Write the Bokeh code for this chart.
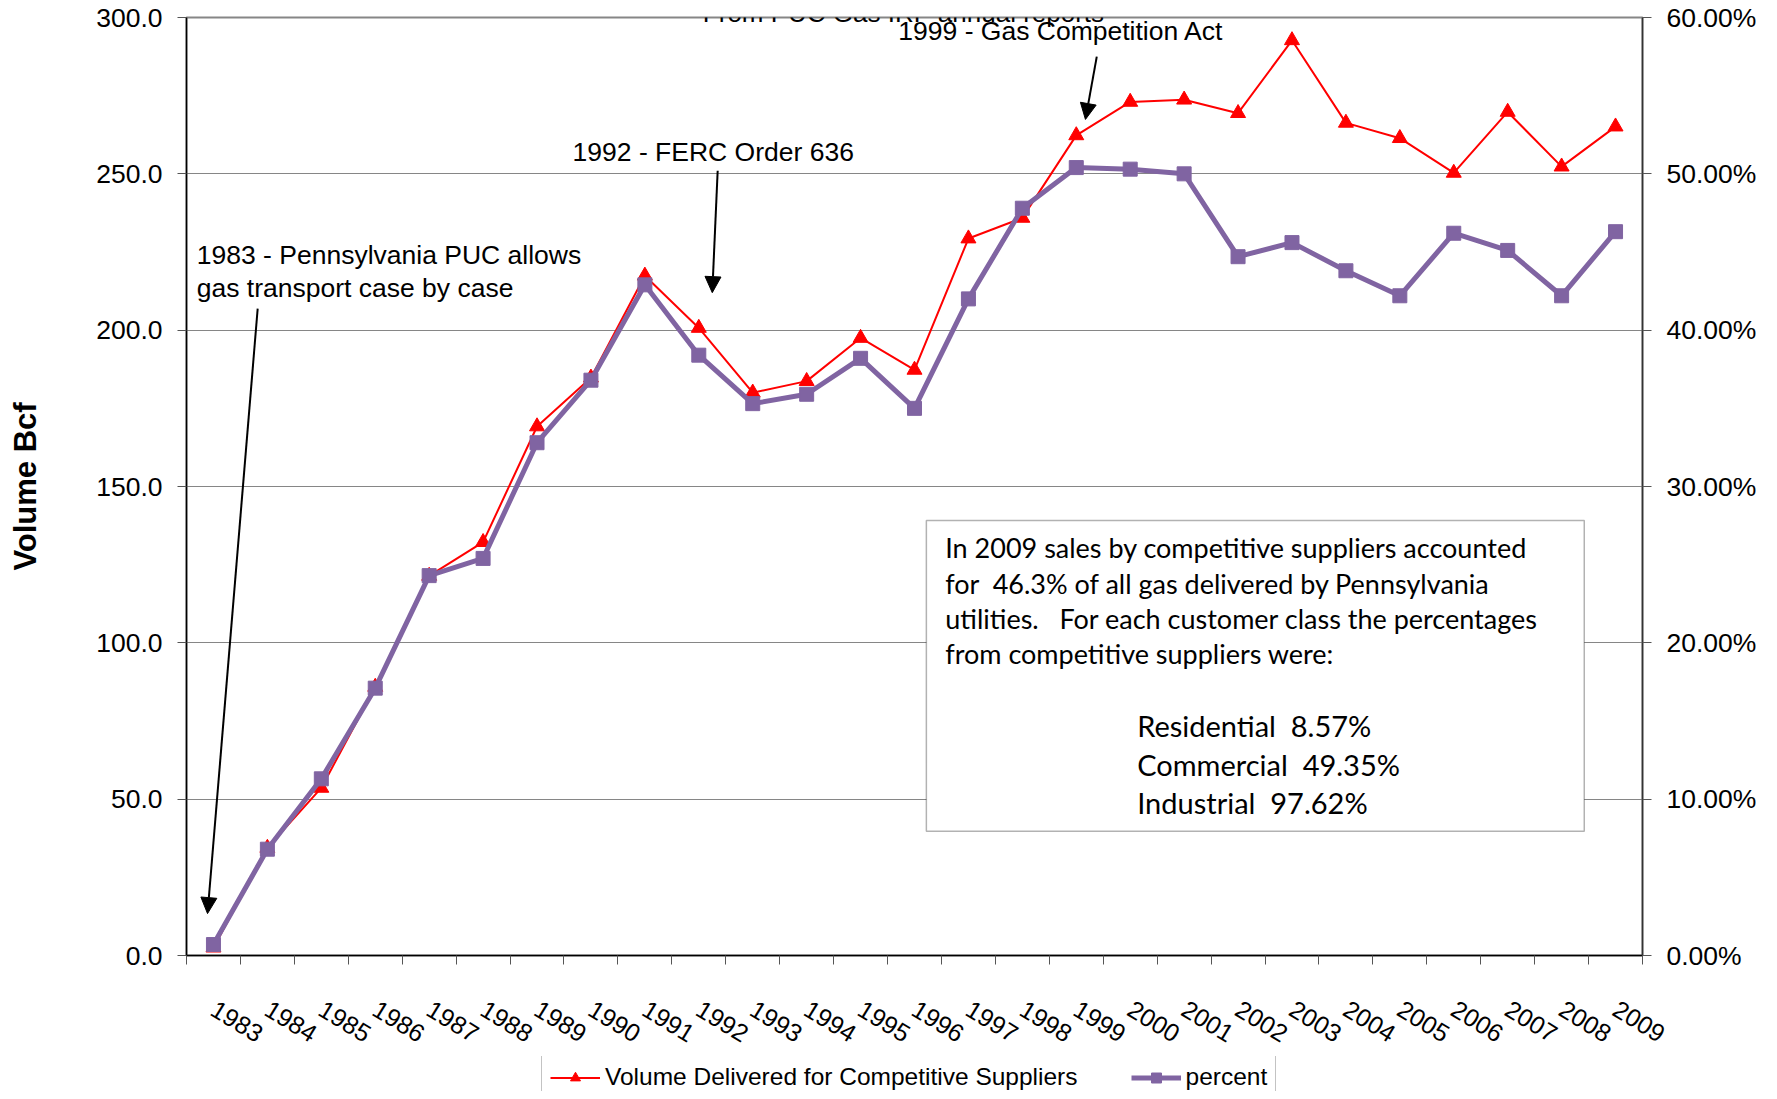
from bokeh.plotting import figure
from bokeh.layouts import column
from bokeh.models import (Range1d, LinearAxis, FixedTicker, PrintfTickFormatter, Legend, LegendItem,
                          Arrow, NormalHead, Label, BoxAnnotation, ColumnDataSource)
from bokeh.embed import file_html
from bokeh.resources import INLINE

# ---------------- data ----------------
years = [1983, 1984, 1985, 1986, 1987, 1988, 1989, 1990, 1991, 1992, 1993, 1994, 1995, 1996,
         1997, 1998, 1999, 2000, 2001, 2002, 2003, 2004, 2005, 2006, 2007, 2008, 2009]
volume = [2.5, 34.4, 53.6, 85.9, 121.4, 132.2, 169.2, 184.8, 217.4, 200.7, 180.0, 183.7, 197.5, 187.3,
          229.3, 235.9, 262.3, 273.0, 273.7, 269.4, 292.7, 266.3, 261.4, 250.3, 269.8, 252.3, 265.1]
percent = [0.7, 6.8, 11.3, 17.1, 24.3, 25.4, 32.8, 36.8, 42.9, 38.4, 35.3, 35.9, 38.2, 35.0,
           42.0, 47.8, 50.4, 50.3, 50.0, 44.7, 45.6, 43.8, 42.2, 46.2, 45.1, 42.2, 46.3]
volume_ticks = [0, 50, 100, 150, 200, 250, 300]
percent_ticks = [0, 10, 20, 30, 40, 50, 60]
series_names = ["Volume Delivered for Competitive Suppliers", "percent"]
title_text = "From PUC Gas IRP annual reports"
NB = "\u00a0"
note_lines = ["In 2009 sales by competitive suppliers accounted",
              "for" + NB + NB + "46.3% of all gas delivered by Pennsylvania",
              "utilities." + NB + NB + NB + "For each customer class the percentages",
              "from competitive suppliers were:"]
class_lines = ["Residential" + NB + NB + "8.57%",
               "Commercial" + NB + NB + "49.35%",
               "Industrial" + NB + NB + "97.62%"]

RED = "#FF0000"
PURPLE = "#8064A2"
FONT = "Liberation Sans"

src = ColumnDataSource(dict(year=years, volume=volume, percent=percent))

p = figure(width=1769, height=1056, output_backend="svg", toolbar_location=None, title=None,
           x_range=Range1d(years[0] - 0.5, years[-1] + 0.5), y_range=Range1d(0, 300),
           x_axis_type=None,
           min_border_left=186, min_border_right=127, min_border_top=17, min_border_bottom=101,
           background_fill_color="white", border_fill_color="white")
p.extra_y_ranges = {"pct": Range1d(0, 60)}
p.outline_line_color = "#868686"
p.outline_line_width = 2

# left axis
ya = p.yaxis[0]
ya.ticker = FixedTicker(ticks=volume_ticks)
ya.formatter = PrintfTickFormatter(format="%.1f")
ya.major_label_text_font = FONT
ya.major_label_text_font_size = "26.5px"
ya.major_label_text_color = "black"
ya.major_tick_out = 9
ya.major_tick_in = 0
ya.major_label_standoff = 15
ya.minor_tick_line_color = None
ya.axis_line_color = "black"
ya.axis_line_width = 1.5
ya.major_tick_line_color = "#555555"
ya.axis_label = "Volume Bcf"
ya.axis_label_text_font = FONT
ya.axis_label_text_font_style = "bold"
ya.axis_label_text_font_size = "31px"
ya.axis_label_text_color = "black"
ya.axis_label_standoff = 50

p.ygrid[0].ticker = FixedTicker(ticks=volume_ticks)
p.ygrid[0].grid_line_color = "#868686"
p.ygrid[0].grid_line_width = 1

# right axis
ra = LinearAxis(y_range_name="pct", ticker=FixedTicker(ticks=percent_ticks),
                formatter=PrintfTickFormatter(format="%.2f%%"))
ra.major_label_text_font = FONT
ra.major_label_text_font_size = "26.5px"
ra.major_label_text_color = "black"
ra.major_tick_out = 9
ra.major_tick_in = 0
ra.major_label_standoff = 15
ra.minor_tick_line_color = None
ra.axis_line_color = "#333333"
ra.axis_line_width = 1.5
ra.major_tick_line_color = "#555555"
p.add_layout(ra, "right")

# bottom axis: labels at category centres, tick marks (minor ticks) at category boundaries
boundaries = [y - 0.5 for y in years] + [years[-1] + 0.5]
xa = LinearAxis(ticker=FixedTicker(ticks=years, minor_ticks=boundaries),
                formatter=PrintfTickFormatter(format="%d"))
xa.major_label_orientation = -0.55
xa.major_label_text_font = FONT
xa.major_label_text_font_size = "25px"
xa.major_label_text_color = "black"
xa.major_label_standoff = 42
xa.major_tick_out = 0
xa.major_tick_in = 0
xa.major_tick_line_color = None
xa.minor_tick_out = 9
xa.minor_tick_in = 0
xa.minor_tick_line_color = "#555555"
xa.minor_tick_line_width = 1
xa.axis_line_color = "black"
xa.axis_line_width = 1.5
p.add_layout(xa, "below")

# series
p.line("year", "volume", source=src, line_color=RED, line_width=2)
p.scatter("year", "volume", source=src, marker="triangle", size=15, fill_color=RED, line_color=RED)
p.line("year", "percent", source=src, y_range_name="pct", line_color=PURPLE, line_width=5)
p.scatter("year", "percent", source=src, y_range_name="pct", marker="square", size=14,
          fill_color=PURPLE, line_color=PURPLE)

# title (cut off at the top, as in the original)
p.add_layout(Label(x=1995.8, y=301.4, text=title_text, text_font=FONT, text_font_size="26px",
                   text_align="center", text_baseline="alphabetic", text_color="black"))

# annotations with arrows
def arrow(x0, y0, x1, y1):
    p.add_layout(Arrow(x_start=x0, y_start=y0, x_end=x1, y_end=y1, line_width=2, line_color="black",
                       end=NormalHead(size=16, fill_color="black", line_color="black")))

def label(x, y, t, font=FONT, size="26.5px"):
    p.add_layout(Label(x=x, y=y, text=t, text_font=font, text_font_size=size,
                       text_align="left", text_baseline="middle", text_color="black"))

label(1995.70, 295.6, "1999 - Gas Competition Act")
arrow(1999.38, 287.5, 1999.17, 267.4)
label(1989.66, 257.1, "1992 - FERC Order 636")
arrow(1992.35, 251.0, 1992.25, 212.0)
label(1982.69, 224.2, "1983 - Pennsylvania PUC allows")
label(1982.69, 213.6, "gas transport case by case")
arrow(1983.82, 206.9, 1982.89, 13.4)

# text box
p.add_layout(BoxAnnotation(left=1996.22, right=2008.42, top=139.1, bottom=39.7,
                           fill_color="white", fill_alpha=1, line_color="black", line_width=1.5))
for t, yy in zip(note_lines, [130.5, 119.0, 107.8, 96.6]):
    label(1996.57, yy, t, font="Lato", size="27px")
for t, yy in zip(class_lines, [73.6, 61.1, 48.9]):
    label(2000.13, yy, t, font="Lato", size="29px")

# legend strip below the chart (cut off at the bottom, as in the original)
q = figure(width=1769, height=35, output_backend="svg", toolbar_location=None, title=None,
           x_range=Range1d(0, 1), y_range=Range1d(0, 1), x_axis_type=None, y_axis_type=None,
           min_border=0, outline_line_color=None,
           background_fill_color="white", border_fill_color="white")
# same series, drawn outside this strip's visible range: only their legend swatches show
lr1 = q.line("year", "volume", source=src, line_color=RED, line_width=2)
lr2 = q.scatter("year", "volume", source=src, marker="triangle", size=15, fill_color=RED, line_color=RED)
lp1 = q.line("year", "percent", source=src, line_color=PURPLE, line_width=5)
lp2 = q.scatter("year", "percent", source=src, marker="square", size=14,
                fill_color=PURPLE, line_color=PURPLE)
legend = Legend(items=[LegendItem(label=series_names[0], renderers=[lr1, lr2]),
                       LegendItem(label=series_names[1], renderers=[lp1, lp2])],
                orientation="horizontal", location=(355, -9), padding=8, spacing=53,
                glyph_width=50, glyph_height=25, label_height=25, label_standoff=5,
                label_text_font=FONT, label_text_font_size="24.5px", label_text_color="black",
                border_line_color="#888888", border_line_width=1.5, margin=0,
                background_fill_color="white", background_fill_alpha=1)
q.add_layout(legend)

open("out.html", "w").write(file_html(column(p, q, spacing=0), INLINE))
